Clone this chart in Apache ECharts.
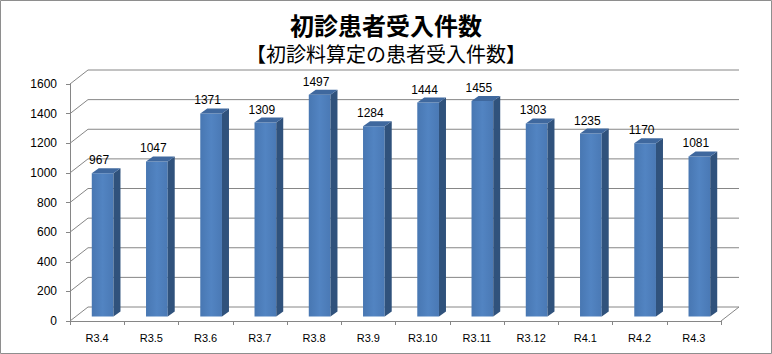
<!DOCTYPE html>
<html>
<head>
<meta charset="utf-8">
<script src="https://cdn.jsdelivr.net/npm/echarts@6/dist/echarts.min.js"></script>
<style>
html,body{margin:0;padding:0;background:#fff;}
#c{width:772px;height:354px;}
</style>
</head>
<body>
<div id="c"></div>
<script>
// ---- data ----
var categories = ['R3.4','R3.5','R3.6','R3.7','R3.8','R3.9','R3.10','R3.11','R3.12','R4.1','R4.2','R4.3'];
var values = [967,1047,1371,1309,1497,1284,1444,1455,1303,1235,1170,1081];
var yTicks = [0,200,400,600,800,1000,1200,1400,1600];
var titleText = '初診患者受入件数';
var subtitleText = '【初診料算定の患者受入件数】';

// ---- 3D look (styling) ----
var DX = 18, DY = 14;          // depth of the floor/walls
var BDX = 7, BDY = 5;          // depth of each bar
var BOX = (DX - BDX) / 2, BOY = (DY - BDY) / 2; // bar placed in the middle of depth
var FONT = '"Liberation Sans", Arial, sans-serif';
var CJK = '"Noto Sans CJK JP", sans-serif';

var chart = echarts.init(document.getElementById('c'), null, {renderer: 'svg'});

var option = {
  backgroundColor: '#fff',
  animation: false,
  title: [
    {text: titleText, left: 'center', top: 7,
     textStyle: {fontFamily: CJK, fontSize: 24, fontWeight: 'bold', color: '#000'}},
    {text: subtitleText, left: 'center', top: 38,
     textStyle: {fontFamily: CJK, fontSize: 20, fontWeight: 'normal', color: '#000'}}
  ],
  graphic: [{
    type: 'rect', z: 100, silent: true,
    shape: {x: 0.5, y: 0.5, width: 771, height: 353},
    style: {fill: 'none', stroke: '#8e8e8e', lineWidth: 1}
  }],
  grid: {left: 70, right: 51, top: 84, bottom: 33},
  xAxis: {
    type: 'category', data: categories, boundaryGap: true,
    axisLine: {lineStyle: {color: '#868686', width: 1}},
    axisTick: {show: true, interval: 0, length: 4, lineStyle: {color: '#868686'}},
    axisLabel: {interval: 0, margin: 11, color: '#000', fontSize: 11, fontFamily: FONT},
    splitLine: {show: false}
  },
  yAxis: {
    type: 'value', min: 0, max: 1600, interval: 200,
    axisLine: {show: true, lineStyle: {color: '#868686', width: 1}},
    axisTick: {show: true, length: 4, lineStyle: {color: '#868686'}},
    axisLabel: {margin: 13, color: '#000', fontSize: 12, fontFamily: FONT,
                formatter: function (v) { return String(v); }},
    splitLine: {show: false}
  },
  series: [
    {
      // back wall gridlines + floor edges
      type: 'custom', z: 1, silent: true, clip: false,
      data: yTicks.map(function (v) { return [0, v]; }),
      renderItem: function (params, api) {
        var cs = params.coordSys;
        var v = api.value(1);
        var y = api.coord([0, v])[1];
        var x0 = cs.x, x1 = cs.x + cs.width;
        var children = [{
          type: 'polyline',
          shape: {points: [[x0, y], [x0 + DX, y - DY], [x1 + DX, y - DY]]},
          style: {stroke: '#868686', lineWidth: 1, fill: null}
        }];
        if (v === 0) {
          children.push({
            type: 'line',
            shape: {x1: x1, y1: y, x2: x1 + DX, y2: y - DY},
            style: {stroke: '#868686', lineWidth: 1}
          });
        }
        return {type: 'group', children: children};
      }
    },
    {
      // 3D bars
      type: 'custom', z: 5, clip: false,
      data: values.map(function (v, i) { return [i, v]; }),
      renderItem: function (params, api) {
        var i = api.value(0), v = api.value(1);
        var base = api.coord([i, 0]);
        var top = api.coord([i, v]);
        var w = api.size([1, 0])[0] * 0.4;
        var xl = base[0] - w / 2 + BOX, xr = base[0] + w / 2 + BOX;
        var yb = base[1] - BOY, yt = top[1] - BOY;
        return {
          type: 'group',
          children: [
            {type: 'polygon',
             shape: {points: [[xl, yb], [xr, yb], [xr, yt], [xl, yt]]},
             style: {fill: new echarts.graphic.LinearGradient(0, 0, 1, 0, [
               {offset: 0, color: '#4877b2'}, {offset: 0.5, color: '#5284c2'}, {offset: 1, color: '#4a79b5'}])}},
            {type: 'polygon',
             shape: {points: [[xr, yb], [xr + BDX, yb - BDY], [xr + BDX, yt - BDY], [xr, yt]]},
             style: {fill: '#30527c'}},
            {type: 'polygon',
             shape: {points: [[xl, yt], [xr, yt], [xr + BDX, yt - BDY], [xl + BDX, yt - BDY]]},
             style: {fill: '#3f689e'}},
            {type: 'text',
             style: {text: String(v), x: base[0] + 2, y: yt - 7, align: 'center', verticalAlign: 'bottom',
                     fill: '#000', fontSize: 12, fontFamily: FONT}}
          ]
        };
      }
    }
  ]
};
chart.setOption(option);
</script>
</body>
</html>
